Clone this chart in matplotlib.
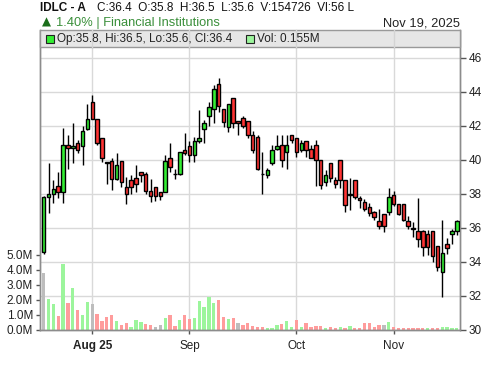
import matplotlib
matplotlib.use("Agg")
import matplotlib.pyplot as plt
from matplotlib.patches import Rectangle
import numpy as np

plt.rcParams['font.family'] = ['Liberation Sans', 'DejaVu Sans']

# ---------------- data ----------------
opens = [34.6, 37.8, 38.0, 38.45, 38.1, 40.9, 40.7, 41.0, 40.8, 41.8,
         43.4, 42.4, 41.3, 39.9, 39.96, 38.86, 39.96, 38.43, 38.8, 38.96,
         39.27, 39.15, 38.17, 38.43, 38.1, 38.14, 40.1, 39.2, 39.16, 40.57,
         40.8, 40.27, 41.1, 41.84, 42.6, 42.98, 44.45, 42.98, 41.96, 43.67,
         42.3, 42.45, 42.3, 41.47, 41.37, 39.2, 39.1, 39.8, 40.67, 40.88,
         40.45, 41.47, 41.27, 40.59, 41.14, 40.67, 40.88, 40.0, 38.73, 39.84,
         38.8, 40.0, 38.8, 37.94, 38.84, 37.78, 37.53, 37.24, 36.94, 36.41,
         36.84, 36.94, 37.96, 37.43, 37.43, 36.41, 35.98, 35.84, 35.8, 35.65,
         35.8, 34.92, 33.43, 35.06, 35.65, 35.8]
highs = [37.9, 39.8, 38.8, 39.3, 41.9, 41.5, 42.2, 41.2, 42.0, 43.3,
         43.8, 42.4, 41.3, 39.9, 40.1, 40.4, 39.96, 39.0, 39.1, 39.7,
         39.27, 39.27, 38.9, 38.43, 38.1, 40.3, 40.98, 39.5, 40.5, 41.57,
         41.1, 41.37, 42.96, 42.35, 43.43, 44.4, 44.8, 42.98, 43.3, 43.67,
         42.3, 42.6, 42.3, 41.7, 41.5, 40.45, 39.55, 40.9, 41.47, 41.47,
         41.47, 41.47, 41.27, 41.2, 41.14, 40.9, 41.18, 40.0, 39.4, 39.84,
         39.0, 40.0, 38.8, 38.96, 38.84, 37.86, 37.7, 37.5, 37.0, 37.14,
         36.84, 38.37, 38.2, 37.43, 37.43, 36.7, 36.33, 37.76, 35.9, 35.9,
         35.8, 34.92, 36.45, 35.4, 35.96, 36.5]
lows = [34.5, 36.9, 37.5, 37.75, 37.45, 39.5, 39.8, 40.4, 39.7, 41.75,
        42.4, 40.9, 39.9, 38.6, 38.24, 38.8, 38.43, 37.39, 38.0, 38.14,
        38.7, 37.98, 37.55, 37.6, 37.67, 38.14, 39.27, 38.9, 39.1, 40.3,
        39.9, 39.9, 40.98, 40.98, 42.0, 42.2, 42.8, 41.96, 41.67, 41.9,
        41.5, 41.9, 41.3, 40.4, 39.4, 38.0, 38.95, 39.7, 40.6, 39.6,
        39.5, 41.0, 40.2, 40.5, 40.2, 40.1, 38.5, 38.3, 38.5, 38.7,
        38.37, 38.37, 36.94, 37.08, 37.7, 37.2, 37.0, 36.7, 36.5, 35.96,
        35.77, 36.76, 37.3, 36.75, 36.4, 35.96, 35.45, 34.9, 34.37, 34.4,
        34.0, 33.5, 31.96, 34.45, 35.06, 35.6]
closes = [37.8, 38.0, 38.3, 38.1, 40.9, 40.7, 40.8, 40.6, 41.7, 42.4,
          42.4, 41.0, 40.1, 39.85, 38.86, 39.7, 38.7, 37.98, 38.43, 38.57,
          39.1, 38.17, 37.88, 37.88, 37.88, 39.96, 39.6, 39.15, 40.45, 40.41,
          40.27, 41.1, 41.27, 42.15, 43.1, 44.16, 43.18, 42.26, 43.27, 42.15,
          42.15, 42.0, 41.47, 40.59, 39.49, 39.16, 39.41, 40.59, 40.82, 40.0,
          40.88, 41.18, 40.45, 40.98, 40.59, 40.14, 40.0, 38.53, 39.12, 38.96,
          38.57, 38.8, 37.37, 37.98, 37.82, 37.67, 37.14, 36.86, 36.65, 36.14,
          36.14, 37.82, 37.43, 36.84, 36.45, 36.14, 35.96, 35.35, 34.86, 34.9,
          34.37, 33.69, 34.51, 34.82, 35.8, 36.4]
volumes_m = [3.79, 2.05, 1.74, 0.93, 4.36, 1.78, 2.78, 1.32, 0.99, 1.85,
             1.72, 1.06, 0.62, 0.86, 0.99, 0.60, 0.33, 0.46, 0.20, 0.66,
             0.55, 0.40, 0.33, 0.20, 0.33, 0.79, 0.99, 0.26, 0.66, 0.99,
             0.73, 0.79, 1.92, 1.52, 2.18, 1.78, 1.98, 0.86, 0.73, 0.79,
             0.46, 0.33, 0.46, 0.26, 0.22, 0.22, 0.12, 0.12, 0.33, 0.40,
             0.62, 0.22, 0.66, 0.22, 0.48, 0.18, 0.26, 0.26, 0.12, 0.20,
             0.12, 0.20, 0.12, 0.26, 0.10, 0.12, 0.45, 0.45, 0.20, 0.30,
             0.35, 0.50, 0.20, 0.15, 0.12, 0.12, 0.12, 0.15, 0.15, 0.10,
             0.15, 0.10, 0.20, 0.18, 0.15, 0.155]
month_tick_index = [10, 30, 52, 72]
month_tick_labels = ["Aug 25", "Sep", "Oct", "Nov"]
price_ticks = [30, 32, 34, 36, 38, 40, 42, 44, 46]
vol_ticks_m = [0, 1, 2, 3, 4, 5]

header_name = "IDLC - A"
header_rest = "C:36.4  O:35.8  H:36.5  L:35.6  V:154726  Vl:56 L"
change_text = "1.40% | Financial Institutions"
date_text = "Nov 19, 2025"
legend_ohlc = "Op:35.8, Hi:36.5, Lo:35.6, Cl:36.4"
legend_vol = "Vol: 0.155M"

# ---------------- styling ----------------
W, H = 500, 366
fig = plt.figure(figsize=(W / 100, H / 100), dpi=100)
L_px, R_px, T_px, B_px = 40, 460, 30, 330
rect = [L_px / W, 1 - B_px / H, (R_px - L_px) / W, (B_px - T_px) / H]

PMIN, PMAX = 30.0, 30.0 + (B_px - T_px) / 17.0
VMAX = (B_px - T_px) / 15.1

ax_vol = fig.add_axes(rect)
ax = ax_vol.twinx()
ax_vol.set_zorder(0)
ax.set_zorder(1)
ax.patch.set_visible(False)

n = len(closes)
x = np.arange(n)
ax.set_xlim(-0.75, n - 0.35)
ax.set_ylim(PMIN, PMAX)
ax_vol.set_ylim(0, VMAX)

grid_c = '#d9d9d9'
spine_c = '#8c8c8c'
# gridlines (on volume axis, behind everything)
for p in price_ticks:
    yv = (p - PMIN) / (PMAX - PMIN) * VMAX
    ax_vol.axhline(yv, color=grid_c, lw=1.0, zorder=0)
for xi in month_tick_index:
    ax_vol.axvline(xi, color=grid_c, lw=1.0, zorder=0)

# volume bars
vol_colors = []
for i in range(n):
    if i == 0 or abs(closes[i] - closes[i - 1]) < 1e-9:
        vol_colors.append('#bdbdbd')
    elif closes[i] > closes[i - 1]:
        vol_colors.append('#9cf59c')
    else:
        vol_colors.append('#ff9c9c')
ax_vol.bar(x, volumes_m, width=0.68, color=vol_colors, zorder=2, linewidth=0)

# candles
ax.vlines(x, lows, highs, color='black', lw=1.0, zorder=3)
body_colors = ['#33ee33' if c >= o else '#ff3333' for o, c in zip(opens, closes)]
heights = [c - o for o, c in zip(opens, closes)]
ax.bar(x, heights, bottom=opens, width=0.72, color=body_colors,
       edgecolor='black', linewidth=1.0, zorder=4)

# axes styling
for a in (ax, ax_vol):
    for s in a.spines.values():
        s.set_color(spine_c)
        s.set_linewidth(1.0)
    a.spines['top'].set_visible(False)

ax.set_yticks(price_ticks)
ax.set_yticklabels([str(p) for p in price_ticks])
ax.tick_params(axis='y', which='both', right=True, left=False, length=4,
               width=1, color='#555555', labelsize=8.5, labelcolor='#222222', pad=2)
ax_vol.set_yticks(vol_ticks_m)
ax_vol.set_yticklabels([f"{v:.1f}M" for v in vol_ticks_m])
ax_vol.tick_params(axis='y', length=3, width=1, color='#555555', labelsize=8.5,
                   labelcolor='#222222', pad=2)

ax_vol.set_xticks(month_tick_index)
ax_vol.set_xticklabels(month_tick_labels)
ax_vol.tick_params(axis='x', length=3, width=1, color='#555555', labelsize=8.5,
                   labelcolor='#222222', pad=4)
ax_vol.get_xticklabels()[0].set_fontweight('bold')
ax.tick_params(axis='x', bottom=False, labelbottom=False)

# legend box inside the plot top
box_h = 17 / (B_px - T_px)
box = Rectangle((0, 1 - box_h), 1, box_h,
                transform=ax.transAxes, facecolor='#e6e6e6', edgecolor='#999999',
                lw=1.0, zorder=10, clip_on=False)
ax.add_patch(box)
for xi in month_tick_index:
    ax.plot([xi, xi], [1 - box_h, 1], transform=ax.get_xaxis_transform(),
            color='#d4d4d4', lw=1.0, zorder=10.5, clip_on=False)
ymid = 1 - 9 / (B_px - T_px)
ax.add_patch(Rectangle((6 / 420, ymid - 4 / 300), 8 / 420, 8 / 300, transform=ax.transAxes,
                       facecolor='#33ee33', edgecolor='#222222', lw=0.8, zorder=11,
                       clip_on=False))
ax.text(17 / 420, ymid, legend_ohlc, transform=ax.transAxes, va='center', ha='left',
        fontsize=8.5, color='#222222', zorder=12)
ax.add_patch(Rectangle((206 / 420, ymid - 4 / 300), 8 / 420, 8 / 300, transform=ax.transAxes,
                       facecolor='#9cf59c', edgecolor='#222222', lw=0.8, zorder=11,
                       clip_on=False))
ax.text(217 / 420, ymid, legend_vol, transform=ax.transAxes, va='center', ha='left',
        fontsize=8.5, color='#222222', zorder=12)

# header
fig.text(40 / W, 1 - 11 / H, header_name, fontsize=8.5, fontweight='bold',
         color='#111111', va='baseline', ha='left')
fig.text(97 / W, 1 - 11 / H, header_rest, fontsize=8.5, color='#111111',
         va='baseline', ha='left')
fig.text(42 / W, 1 - 25.5 / H, "\u25B2", fontsize=8.5, color='#1a6e1a', va='baseline',
         ha='left', family=['DejaVu Sans'])
fig.text(56 / W, 1 - 26 / H, change_text, fontsize=9.3, color='#3a8f3a',
         va='baseline', ha='left')
fig.text(460 / W, 1 - 26 / H, date_text, fontsize=9.3, color='#222222',
         va='baseline', ha='right')

fig.savefig("out.png", dpi=100)
